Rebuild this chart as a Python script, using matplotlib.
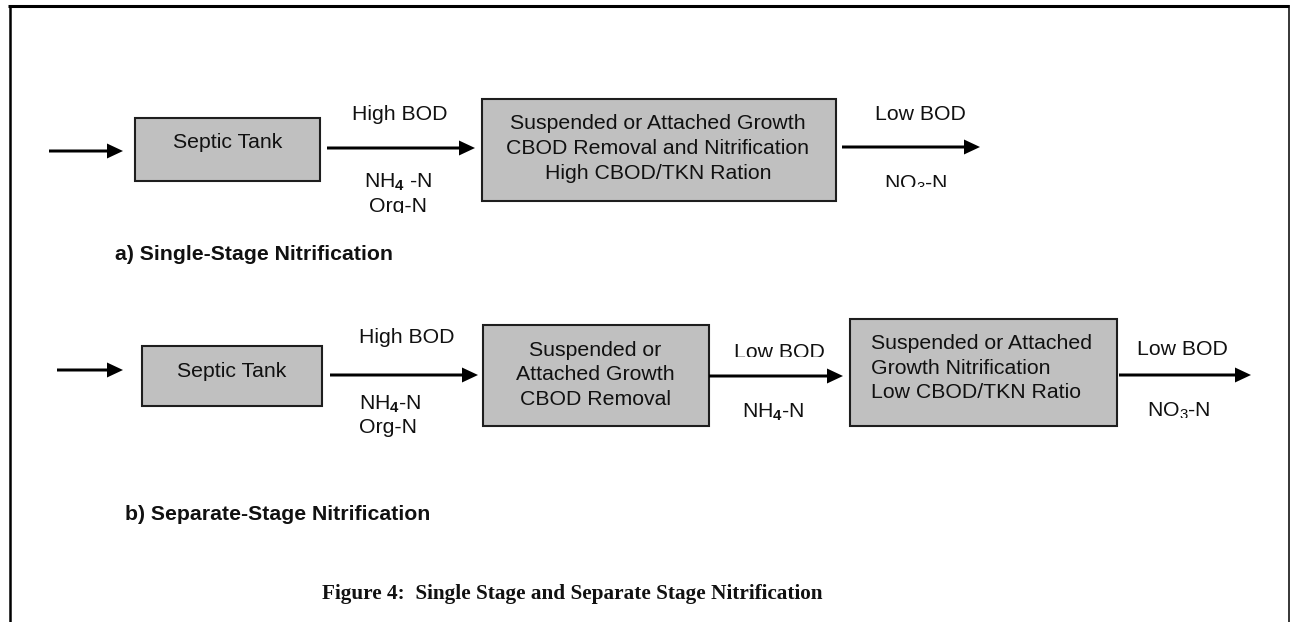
import matplotlib
matplotlib.use("Agg")
import matplotlib.pyplot as plt
from matplotlib.patches import Rectangle

plt.rcParams['font.family'] = ['Liberation Sans', 'DejaVu Sans']
plt.rcParams['mathtext.fontset'] = 'custom'
plt.rcParams['mathtext.rm'] = 'Liberation Sans'
plt.rcParams['mathtext.bf'] = 'Liberation Sans:bold'
plt.rcParams['mathtext.it'] = 'Liberation Sans:italic'

# ---------------- text content ----------------
a_box_labels = ["Septic Tank",
                ["Suspended or Attached Growth",
                 "CBOD Removal and Nitrification",
                 "High CBOD/TKN Ration"]]
a_top_labels = ["High BOD", "Low BOD"]
a_bottom_labels = [[r"NH$_\mathbf{4}$ -N", "Org-N"], [r"NO$_3$-N"]]
a_title = "a) Single-Stage Nitrification"

b_box_labels = ["Septic Tank",
                ["Suspended or", "Attached Growth", "CBOD Removal"],
                ["Suspended or Attached", "Growth Nitrification", "Low CBOD/TKN Ratio"]]
b_top_labels = ["High BOD", "Low BOD", "Low BOD"]
b_bottom_labels = [[r"NH$_\mathbf{4}$-N", "Org-N"], [r"NH$_\mathbf{4}$-N"], [r"NO$_3$-N"]]
b_title = "b) Separate-Stage Nitrification"

caption = "Figure 4:  Single Stage and Separate Stage Nitrification"

# ---------------- figure ----------------
W, H = 1291, 622
fig = plt.figure(figsize=(W / 100, H / 100), dpi=100)
ax = fig.add_axes([0, 0, 1, 1])
ax.set_xlim(0, W)
ax.set_ylim(H, 0)
ax.axis('off')

FS = 15.3
TXT = '#111111'


def box(x0, x1, y0, y1):
    ax.add_patch(Rectangle((x0, y0), x1 - x0, y1 - y0, fc='#c0c0c0',
                           ec='#1e1e1e', lw=1.5, zorder=2))


def arrow(x0, x1, y):
    ax.arrow(x0, y, x1 - x0, 0, width=3, head_width=15, head_length=16,
             length_includes_head=True, fc='black', ec='none', zorder=3)


def txt(x, y, s, ha='center', clip=None, **kw):
    t = ax.text(x, y, s, ha=ha, va='baseline', fontsize=FS, color=TXT,
                zorder=4, **kw)
    if clip is not None:
        r = Rectangle((0, 0), W, clip, transform=ax.transData)
        t.set_clip_on(True)
        t.set_clip_path(r)
    return t


# frame
ax.plot([8, 1289], [5.5, 5.5], color='black', lw=2.2, solid_capstyle='butt')
ax.plot([9.5, 9.5], [4.5, H], color='black', lw=1.8, solid_capstyle='butt')
ax.plot([1288.5, 1288.5], [4.5, H], color='black', lw=1.1, solid_capstyle='butt')

# ---------------- row a ----------------
arrow(49, 123, 151)
box(135, 320, 118, 181)
txt(227.5, 148.5, a_box_labels[0])
arrow(327, 475, 148)
txt(400, 120.5, a_top_labels[0])
txt(398, 188, a_bottom_labels[0][0])
txt(398, 212, a_bottom_labels[0][1], clip=212.7)
box(482, 836, 99, 201)
for line, yb in zip(a_box_labels[1], [129.3, 154, 179]):
    txt(658, yb, line)
arrow(842, 980, 147)
txt(920, 120, a_top_labels[1])
txt(916, 190, a_bottom_labels[1][0], clip=187.3)
txt(115, 260, a_title, ha='left', fontweight='bold')

# ---------------- row b ----------------
arrow(57, 123, 370)
box(142, 322, 346, 406)
txt(231.7, 376.7, b_box_labels[0])
arrow(330, 478, 375)
txt(359.3, 342.7, b_top_labels[0], ha='left')
txt(359.3, 410, b_bottom_labels[0][0], ha='left')
txt(359.3, 433, b_bottom_labels[0][1], ha='left')
box(483, 709, 325, 426)
for line, yb in zip(b_box_labels[1], [355.7, 380, 405]):
    txt(595.5, yb, line)
arrow(709, 843, 376)
txt(779, 358, b_top_labels[1], clip=356.7)
txt(773.7, 417.3, b_bottom_labels[1][0])
box(850, 1117, 319, 426)
for line, yb in zip(b_box_labels[2], [349, 374, 398.3]):
    txt(871, yb, line, ha='left')
arrow(1119, 1251, 375)
txt(1182, 355, b_top_labels[2])
txt(1179, 416.7, b_bottom_labels[2][0], clip=418)
txt(125, 520, b_title, ha='left', fontweight='bold')

# caption
ax.text(321.5, 599.5, caption, ha='left', va='baseline', fontsize=15.3,
        fontweight='bold', family='Liberation Serif', color=TXT)

fig.savefig('out.png', dpi=100)
